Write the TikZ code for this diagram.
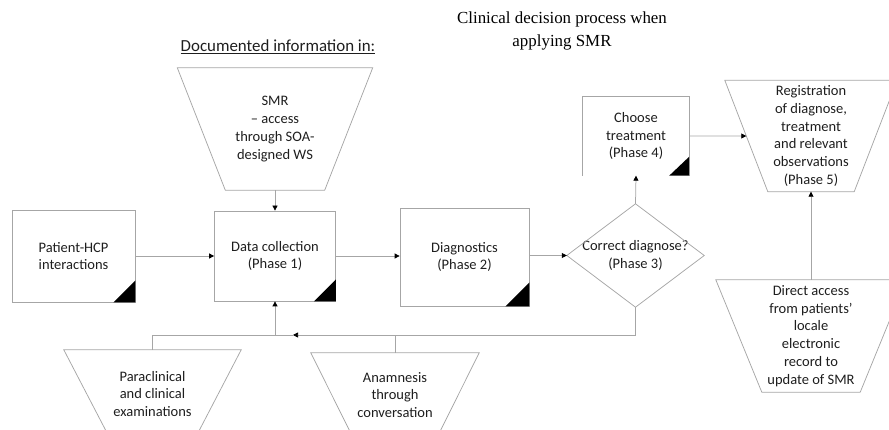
\documentclass[tikz,border=0pt]{standalone}
\usepackage{fontspec}
\setmainfont{Carlito}
\newfontfamily\titleserif{Liberation Serif}
\usetikzlibrary{arrows.meta,calc}
\definecolor{edgegray}{HTML}{A6A6A6}
\definecolor{txt}{HTML}{1E1E1E}
\tikzset{
  edge/.style={draw=edgegray, line width=0.75pt},
  arr/.style={edge, -{Triangle[length=5pt,width=5pt,color=black]}},
  lbl/.style={font=\fontsize{14.5}{17.8}\selectfont, text=txt, align=center, inner sep=0pt},
  procbox/.style={lbl, edge, draw, minimum width=#1},
  corner/.style={fill=black},
}
\begin{document}
\begin{tikzpicture}[x=1pt,y=-1pt]
\useasboundingbox (0,0) rectangle (889,430);

% titles
\node[lbl, font=\fontsize{16.9}{20}\selectfont] (doc) at (278,47) {\underline{Documented information in:}};
\node[text=black, align=center, inner sep=0pt, font=\titleserif\fontsize{16.9}{23}\selectfont] (title) at (562,31) {Clinical decision process when\\applying SMR};

% rectangles
\node[procbox=123pt, minimum height=92pt] (pat) at (73.5,256) {Patient-HCP\\interactions};
\node[procbox=121pt, minimum height=90pt] (dc) at (275,256) {Data collection\\(Phase 1)};
\node[procbox=129pt, minimum height=98pt] (diag) at (464.5,257) {Diagnostics\\(Phase 2)};
\node[lbl, minimum width=106pt, minimum height=79pt] (choose) at (636,136) {Choose\\treatment\\(Phase 4)};
\draw[edge] (choose.south west) -- (choose.north west) -- (choose.north east) -- (choose.south east);

% corner marks
\fill[corner] (pat.south east) -- ++(-22,0) -- ++(22,-22) -- cycle;
\fill[corner] (dc.south east) -- ++(-22,0) -- ++(22,-22) -- cycle;
\fill[corner] (diag.south east) -- ++(-24,0) -- ++(24,-24) -- cycle;
\fill[corner] (choose.south east) -- ++(-20,0) -- ++(20,-19) -- cycle;

% decision diamond
\node[lbl, minimum width=137pt, minimum height=103pt] (dia) at (635.5,255.5) {Correct diagnose?\\(Phase 3)};
\draw[edge] (dia.north) -- (dia.east) -- (dia.south) -- (dia.west) -- cycle;

% trapezia (documents)
\node[lbl, minimum width=195pt, minimum height=122pt] (smr) at (275,129) {SMR\\\textendash{} access\\through SOA-\\designed WS};
\draw[edge] (smr.north west) -- (smr.north east) -- ([xshift=-48pt]smr.south east) -- ([xshift=48pt]smr.south west) -- cycle;

\node[lbl, minimum width=172pt, minimum height=111pt] (reg) at (811,136) {Registration\\of diagnose,\\treatment\\and relevant\\observations\\(Phase 5)};
\draw[edge] (reg.north west) -- (reg.north east) -- ([xshift=-43pt]reg.south east) -- ([xshift=43pt]reg.south west) -- cycle;

\node[lbl, minimum width=190pt, minimum height=112pt] (dir) at (811,336) {Direct access\\from patients'\\locale\\electronic\\record to\\update of SMR};
\draw[edge] (dir.north west) -- (dir.north east) -- ([xshift=-46pt]dir.south east) -- ([xshift=46pt]dir.south west) -- cycle;

\node[lbl, minimum width=177pt, minimum height=88pt] (pc) at (152.5,394) {Paraclinical\\and clinical\\examinations};
\draw[edge] (pc.north west) -- (pc.north east) -- ([xshift=-46pt]pc.south east) -- ([xshift=46pt]pc.south west) -- cycle;

\node[lbl, minimum width=168pt, minimum height=84pt] (an) at (395,395) {Anamnesis\\through\\conversation};
\draw[edge] (an.north west) -- (an.north east) -- ([xshift=-42pt]an.south east) -- ([xshift=42pt]an.south west) -- cycle;

% connectors
\draw[arr] (smr.south) -- (dc.north);
\draw[arr] (pat.east) -- (dc.west);
\draw[arr] (dc.east) -- (diag.west |- dc.east);
\draw[arr] (diag.east |- dia.west) -- (dia.west);
\draw[arr] (dia.north) -- (choose.south);
\draw[arr] (choose.east) -- ($(reg.north west)!0.5!([xshift=43pt]reg.south west)$);
\draw[arr] (dir.north) -- (reg.south);

\coordinate (j) at (275,335);
\coordinate (m1) at (293,335);
\draw[arr] (dia.south) |- (m1);
\draw[arr] (m1) -- (j) -- (dc.south);
\draw[edge] (j) -| (pc.north);
\draw[edge] (an.north) -- (an.north |- j);
\end{tikzpicture}
\end{document}
